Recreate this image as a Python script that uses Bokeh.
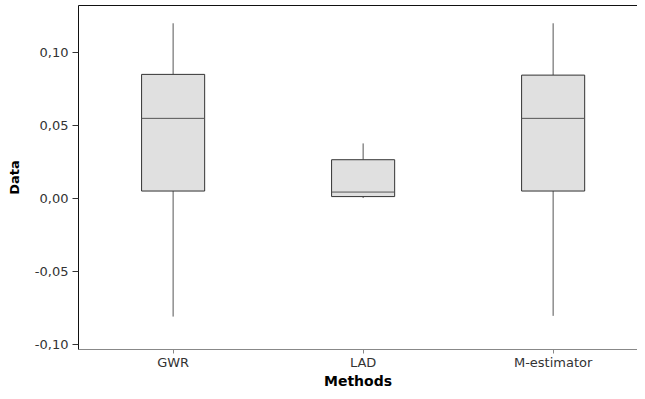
from bokeh.plotting import figure
from bokeh.models import (Range1d, FixedTicker, LinearAxis, CustomJSTickFormatter,
                          ColumnDataSource)
from bokeh.transform import dodge
from bokeh.embed import file_html
from bokeh.resources import INLINE

categories = ["GWR", "LAD", "M-estimator"]
lower_whisker = [-0.0810, 0.0004, -0.0805]
q1 = [0.0052, 0.0014, 0.0052]
median = [0.0551, 0.0045, 0.0551]
q3 = [0.0853, 0.0267, 0.0848]
upper_whisker = [0.1204, 0.0379, 0.1204]
ytick_values = [-0.10, -0.05, 0.00, 0.05, 0.10]

x = list(range(len(categories)))
box_w = 0.332

src = ColumnDataSource(dict(x=x, lo=lower_whisker, q1=q1, med=median, q3=q3,
                            hi=upper_whisker))

p = figure(width=637, height=391, output_backend="svg", toolbar_location=None,
           x_range=Range1d(-0.498, 2.444), y_range=Range1d(-0.1036, 0.1326),
           min_border_left=78, min_border_right=0, min_border_top=5,
           min_border_bottom=0)
p.outline_line_color = None
p.border_fill_color = "white"
p.background_fill_color = "white"

p.xgrid.visible = False
p.ygrid.visible = False

# whiskers
p.segment(x0="x", y0="q3", x1="x", y1="hi", source=src, line_color="#555555", line_width=1)
p.segment(x0="x", y0="lo", x1="x", y1="q1", source=src, line_color="#555555", line_width=1)
# boxes
p.vbar(x="x", width=box_w, bottom="q1", top="q3", source=src,
       fill_color="#e0e0e0", line_color="#333333", line_width=1)
# medians
p.segment(x0=dodge("x", -box_w / 2), y0="med", x1=dodge("x", box_w / 2), y1="med",
          source=src, line_color="#555555", line_width=1)

# axes
xa = p.xaxis[0]
xa.ticker = FixedTicker(ticks=x)
xa.major_label_overrides = {i: c for i, c in enumerate(categories)}
xa.axis_label = "Methods"
xa.axis_line_color = "#888888"
xa.major_tick_line_color = "#888888"
xa.minor_tick_line_color = None
xa.major_tick_in = 0
xa.major_tick_out = 4
xa.major_label_standoff = 1
xa.axis_label_standoff = 0
xa.axis_label_text_font_size = "14px"

ya = p.yaxis[0]
ya.ticker = FixedTicker(ticks=ytick_values)
ya.formatter = CustomJSTickFormatter(code="return tick.toFixed(2).replace('.', ',');")
ya.axis_label = "Data"
ya.axis_line_color = "#111111"
ya.major_tick_line_color = "#333333"
ya.minor_tick_line_color = None
ya.major_tick_in = 0
ya.major_tick_out = 6
ya.major_label_standoff = 4
ya.axis_label_standoff = 10
ya.axis_label_text_font_size = "13px"

for ax in (xa, ya):
    ax.major_label_text_font = "DejaVu Sans"
    ax.major_label_text_font_size = "13px"
    ax.major_label_text_color = "#333333"
    ax.axis_label_text_font = "DejaVu Sans"
    ax.axis_label_text_font_style = "bold"
    ax.axis_label_text_color = "#000000"

top = LinearAxis(ticker=FixedTicker(ticks=[]), major_label_text_font_size="0px",
                 major_tick_line_color=None, minor_tick_line_color=None,
                 major_tick_out=0, major_tick_in=0, major_label_standoff=0,
                 axis_line_color="#111111")
p.add_layout(top, "above")

open("out.html", "w").write(file_html(p, INLINE))
